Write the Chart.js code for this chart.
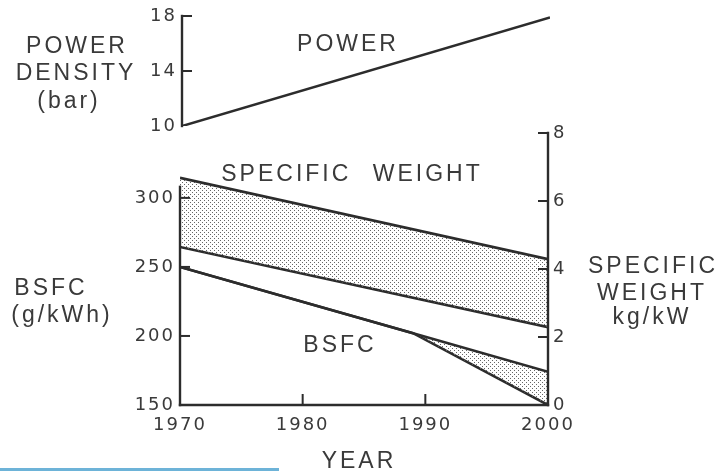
<!DOCTYPE html>
<html>
<head>
<meta charset="utf-8">
<title>Power density, specific weight and BSFC, 1970-2000</title>
<script src="https://cdn.jsdelivr.net/npm/chart.js@4.4.1/dist/chart.umd.min.js"></script>
<style>
  html, body { margin: 0; padding: 0; background: #fff; }
  #wrap { position: relative; width: 720px; height: 471px; overflow: hidden; }
  #wrap canvas { position: absolute; left: 0; top: 0; }
  #edge { position: absolute; left: 0; top: 468px; width: 279px; height: 3px; background: #6db3d8; }
</style>
</head>
<body>
<div id="wrap">
  <canvas id="trend" width="720" height="471"></canvas>
  <canvas id="power" width="720" height="471"></canvas>
  <div id="edge"></div>
</div>
<script>
// values
const years = [1970, 2000];
const powerDensity = [10, 17.9];        // bar
const specWeightHigh = [6.68, 4.29];    // kg/kW
const specWeightLow = [4.65, 2.29];
const bsfcYears = [1970, 1989, 2000];
const bsfcHigh = [250, 202, 174];       // g/kWh
const bsfcLow = [250, 202, 150];

const yearTicks = [1970, 1980, 1990, 2000];
const powerTicks = [10, 14, 18];
const bsfcTicks = [150, 200, 250, 300];
const weightTicks = [0, 2, 4, 6, 8];

const INK = '#2c2c2c';
const TEXT = '#3a3a3a';
const FAMILY = '"Liberation Sans", Arial, sans-serif';
const DIGITS = '"DejaVu Sans", sans-serif';

const pts = (xs, ys) => xs.map((x, i) => ({ x: x, y: ys[i] }));
const fixTicks = list => scale => { scale.ticks = list.map(v => ({ value: v })); };

// stippled fill for the bands
function stipple() {
  const c = document.createElement('canvas');
  c.width = 4; c.height = 4;
  const g = c.getContext('2d');
  g.fillStyle = '#666';
  g.fillRect(0, 0, 1, 1);
  g.fillRect(2, 2, 1, 1);
  return g.createPattern(c, 'repeat');
}
const dots = stipple();

// tick labels in the scan are widely spaced
const spacing = {
  id: 'spacing',
  beforeDraw(chart) { chart.ctx.letterSpacing = '2px'; }
};

// axis lines and tick marks pointing into the plot
const axes = {
  id: 'axes',
  afterDatasetsDraw(chart, args, opts) {
    const ctx = chart.ctx;
    ctx.save();
    ctx.strokeStyle = INK;
    ctx.lineWidth = 2.4;
    ctx.lineCap = 'square';
    (opts.spines || []).forEach(sp => {
      const s = chart.scales[sp.scale];
      ctx.beginPath();
      if (s.isHorizontal()) {
        ctx.moveTo(s.getPixelForValue(sp.from), s.top);
        ctx.lineTo(s.getPixelForValue(sp.to), s.top);
      } else {
        const x = s.position === 'left' ? s.right : s.left;
        ctx.moveTo(x, s.getPixelForValue(sp.from));
        ctx.lineTo(x, s.getPixelForValue(sp.to));
      }
      ctx.stroke();
    });
    ctx.lineWidth = 2;
    (opts.marks || []).forEach(m => {
      const s = chart.scales[m.scale];
      m.values.forEach(v => {
        const p = s.getPixelForValue(v);
        ctx.beginPath();
        if (s.isHorizontal()) { ctx.moveTo(p, s.top); ctx.lineTo(p, s.top - 10); }
        else if (s.position === 'left') { ctx.moveTo(s.right, p); ctx.lineTo(s.right + 9, p); }
        else { ctx.moveTo(s.left, p); ctx.lineTo(s.left - 9, p); }
        ctx.stroke();
      });
    });
    ctx.restore();
  }
};

// labels inside and around the plots
const labels = {
  id: 'labels',
  afterDraw(chart, args, opts) {
    const ctx = chart.ctx;
    ctx.save();
    ctx.fillStyle = TEXT;
    ctx.font = '23px ' + FAMILY;
    ctx.letterSpacing = '3px';
    ctx.textAlign = 'center';
    ctx.textBaseline = 'alphabetic';
    (opts.items || []).forEach(it => {
      ctx.wordSpacing = it.gap || '0px';
      ctx.fillText(it.text, it.x, it.y + 8);
    });
    ctx.restore();
  }
};

const tickFont = { family: DIGITS, size: 18 };

const lineStyle = {
  borderColor: INK,
  borderWidth: 2.6,
  pointRadius: 0,
  tension: 0
};

new Chart(document.getElementById('trend'), {
  type: 'line',
  data: {
    datasets: [
      Object.assign({ label: 'Specific weight (upper)', data: pts(years, specWeightHigh), yAxisID: 'yW', fill: '+1', backgroundColor: dots }, lineStyle),
      Object.assign({ label: 'Specific weight (lower)', data: pts(years, specWeightLow), yAxisID: 'yW', fill: false }, lineStyle),
      Object.assign({ label: 'BSFC (upper)', data: pts(bsfcYears, bsfcHigh), yAxisID: 'yB', fill: '+1', backgroundColor: dots }, lineStyle),
      Object.assign({ label: 'BSFC (lower)', data: pts(bsfcYears, bsfcLow), yAxisID: 'yB', fill: false }, lineStyle)
    ]
  },
  options: {
    responsive: false,
    animation: false,
    layout: { padding: { top: 133, left: 0, right: 0, bottom: 0 } },
    scales: {
      x: {
        type: 'linear', min: 1970, max: 2000,
        afterBuildTicks: fixTicks(yearTicks),
        afterFit: s => { s.height = 66; },
        grid: { display: false, drawTicks: false },
        border: { display: false },
        ticks: { color: TEXT, font: tickFont, padding: 10, maxRotation: 0, autoSkip: false, callback: v => String(v) },
        title: { display: false }
      },
      yB: {
        type: 'linear', position: 'left', min: 150, max: 347,
        afterBuildTicks: fixTicks(bsfcTicks),
        afterFit: s => { s.width = 180; },
        grid: { display: false, drawTicks: false },
        border: { display: false },
        ticks: { color: TEXT, font: tickFont, padding: 5 }
      },
      yW: {
        type: 'linear', position: 'right', min: 0, max: 8,
        afterBuildTicks: fixTicks(weightTicks),
        afterFit: s => { s.width = 172; },
        grid: { display: false, drawTicks: false },
        border: { display: false },
        ticks: { color: TEXT, font: tickFont, padding: 5 }
      }
    },
    plugins: {
      legend: { display: false },
      tooltip: { enabled: false },
      axes: {
        spines: [
          { scale: 'x', from: 1970, to: 2000 },
          { scale: 'yB', from: 150, to: 308 },
          { scale: 'yW', from: 0, to: 8 }
        ],
        marks: [
          { scale: 'x', values: [1980, 1990] },
          { scale: 'yB', values: [200, 250, 300] },
          { scale: 'yW', values: [2, 4, 6, 8] }
        ]
      },
      labels: {
        items: [
          { text: 'SPECIFIC WEIGHT', x: 352, y: 173, gap: '12px' },
          { text: 'BSFC', x: 340, y: 344 },
          { text: 'BSFC', x: 51, y: 287 },
          { text: '(g/kWh)', x: 62, y: 314 },
          { text: 'SPECIFIC', x: 653, y: 265 },
          { text: 'WEIGHT', x: 652, y: 292 },
          { text: 'kg/kW', x: 652, y: 316 },
          { text: 'YEAR', x: 359, y: 460 }
        ]
      }
    }
  },
  plugins: [spacing, axes, labels]
});

new Chart(document.getElementById('power'), {
  type: 'line',
  data: {
    datasets: [
      Object.assign({ label: 'Power density', data: pts(years, powerDensity), fill: false }, lineStyle)
    ]
  },
  options: {
    responsive: false,
    animation: false,
    layout: { padding: { top: 16, left: 0, right: 170, bottom: 345 } },
    scales: {
      x: { type: 'linear', min: 1970, max: 2000, display: false },
      y: {
        type: 'linear', position: 'left', min: 10, max: 18,
        afterBuildTicks: fixTicks(powerTicks),
        afterFit: s => { s.width = 182; },
        grid: { display: false, drawTicks: false },
        border: { display: false },
        ticks: { color: TEXT, font: tickFont, padding: 5 }
      }
    },
    plugins: {
      legend: { display: false },
      tooltip: { enabled: false },
      axes: {
        spines: [{ scale: 'y', from: 10, to: 18 }],
        marks: [{ scale: 'y', values: [14, 18] }]
      },
      labels: {
        items: [
          { text: 'POWER', x: 348, y: 43 },
          { text: 'POWER', x: 77, y: 45 },
          { text: 'DENSITY', x: 76, y: 72 },
          { text: '(bar)', x: 69, y: 100 }
        ]
      }
    }
  },
  plugins: [spacing, axes, labels]
});
</script>
</body>
</html>
